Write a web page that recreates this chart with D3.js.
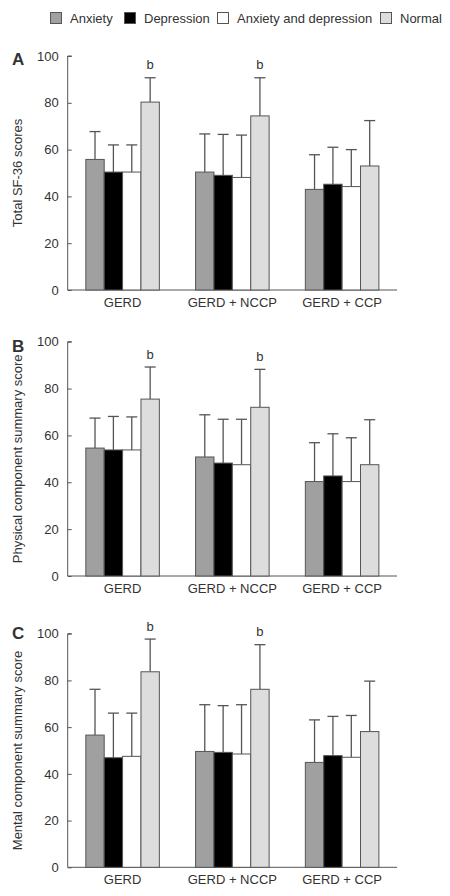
<!DOCTYPE html>
<html><head><meta charset="utf-8">
<script src="https://cdn.jsdelivr.net/npm/d3@7"></script>
<style>body{margin:0;background:#fff}svg{display:block}text{font-family:"Liberation Sans",Arial,sans-serif;fill:#333}</style>
</head><body>
<script>
const categories = ["GERD", "GERD + NCCP", "GERD + CCP"];
const seriesNames = ["Anxiety", "Depression", "Anxiety and depression", "Normal"];
const seriesColors = ["#a0a0a0", "#000000", "#ffffff", "#dcdddc"];
const yTicks = [0, 20, 40, 60, 80, 100];

// Panel A: Total SF-36 scores (mean, upper error)
const totalMean = [[55.8, 50.4, 50.4, 80.3], [50.4, 49.0, 48.1, 74.4], [43.0, 45.2, 44.2, 53.0]];
const totalSD   = [[11.9, 11.6, 11.6, 10.4], [16.3, 17.5, 18.1, 16.3], [14.8, 15.8, 15.8, 19.4]];
// Panel B: Physical component summary score
const physMean = [[54.6, 53.8, 53.8, 75.5], [50.8, 48.2, 47.5, 72.0], [40.3, 42.7, 40.3, 47.5]];
const physSD   = [[12.8, 14.3, 14.1, 13.7], [18.0, 18.7, 19.4, 16.2], [16.6, 18.0, 18.7, 19.2]];
// Panel C: Mental component summary score
const mentMean = [[56.6, 46.9, 47.5, 83.7], [49.6, 49.2, 48.5, 76.2], [44.9, 47.8, 47.1, 58.1]];
const mentSD   = [[19.6, 19.1, 18.5, 14.0], [20.0, 20.0, 21.1, 19.1], [18.2, 16.8, 17.9, 21.6]];
// significance markers
const sigMarks = [["", "", "", "b"], ["", "", "", "b"], ["", "", "", ""]];

const panels = [
  {letter: "A", label: "Total SF-36 scores", mean: totalMean, sd: totalSD, top: 56, bottom: 290, letterY: 65},
  {letter: "B", label: "Physical component summary score", mean: physMean, sd: physSD, top: 341.7, bottom: 576, letterY: 352},
  {letter: "C", label: "Mental component summary score", mean: mentMean, sd: mentSD, top: 633.7, bottom: 867.3, letterY: 639}
];

const W = 450, H = 896;
const svg = d3.select("body").append("svg").attr("width", W).attr("height", H);
const stroke = "#555";

// Legend
const legendX = [50, 124, 217, 380];
const lg = svg.append("g");
seriesNames.forEach((s, i) => {
  lg.append("rect").attr("x", legendX[i] + 0.5).attr("y", 12.5).attr("width", 11).attr("height", 11)
    .attr("fill", seriesColors[i]).attr("stroke", stroke).attr("stroke-width", 1);
  lg.append("text").attr("x", legendX[i] + 20).attr("y", 22.5).attr("font-size", 13).text(s);
});

const xLeft = 67.7, xRight = 397;
const x0 = d3.scaleBand().domain(categories).range([xLeft, xRight]).paddingInner(0.33).paddingOuter(0.165);
const x1 = d3.scaleBand().domain(seriesNames).range([0, x0.bandwidth()]).padding(0);

panels.forEach(p => {
  const y = d3.scaleLinear().domain([0, 100]).range([p.bottom, p.top]);
  const g = svg.append("g");

  // y axis
  const ya = g.append("g").attr("transform", `translate(${xLeft},0)`)
    .call(d3.axisRight(y).tickValues(yTicks).tickSize(4).tickFormat(d3.format("d")));
  ya.select(".domain").attr("stroke", stroke).attr("d", `M4,${p.top}H0V${p.bottom}`);
  ya.selectAll(".tick line").attr("stroke", stroke);
  ya.selectAll(".tick text").attr("x", -9).attr("text-anchor", "end").attr("font-size", 13)
    .attr("font-family", "Liberation Sans, Arial, sans-serif").attr("fill", "#333");

  // x axis line
  g.append("line").attr("x1", xLeft).attr("x2", xRight).attr("y1", p.bottom).attr("y2", p.bottom)
    .attr("stroke", stroke).attr("stroke-width", 1);

  // category labels
  categories.forEach(c => {
    g.append("text").attr("x", x0(c) + x0.bandwidth() / 2).attr("y", p.bottom + 17)
      .attr("text-anchor", "middle").attr("font-size", 13).text(c);
  });

  // bars
  categories.forEach((c, ci) => {
    seriesNames.forEach((s, si) => {
      const v = p.mean[ci][si], e = p.sd[ci][si];
      const bx = x0(c) + x1(s), bw = x1.bandwidth();
      const cx = bx + bw / 2;
      // error bar
      g.append("line").attr("x1", cx).attr("x2", cx).attr("y1", y(v)).attr("y2", y(v + e))
        .attr("stroke", stroke).attr("stroke-width", 1.3);
      g.append("line").attr("x1", cx - 5.5).attr("x2", cx + 5.5).attr("y1", y(v + e)).attr("y2", y(v + e))
        .attr("stroke", stroke).attr("stroke-width", 1.3);
      g.append("rect").attr("x", bx).attr("y", y(v)).attr("width", bw).attr("height", y(0) - y(v))
        .attr("fill", seriesColors[si]).attr("stroke", stroke).attr("stroke-width", 1);
      if (sigMarks[ci][si]) {
        g.append("text").attr("x", cx).attr("y", y(v + e) - 8.5).attr("text-anchor", "middle")
          .attr("font-size", 13).text(sigMarks[ci][si]);
      }
    });
  });

  // y label
  g.append("text").attr("transform", `translate(22,${(p.top + p.bottom) / 2}) rotate(-90)`)
    .attr("text-anchor", "middle").attr("font-size", 13).text(p.label);

  // panel letter
  g.append("text").attr("x", 12).attr("y", p.letterY).attr("font-size", 17).attr("font-weight", "bold")
    .attr("fill", "#111").text(p.letter);
});
</script>
</body></html>
